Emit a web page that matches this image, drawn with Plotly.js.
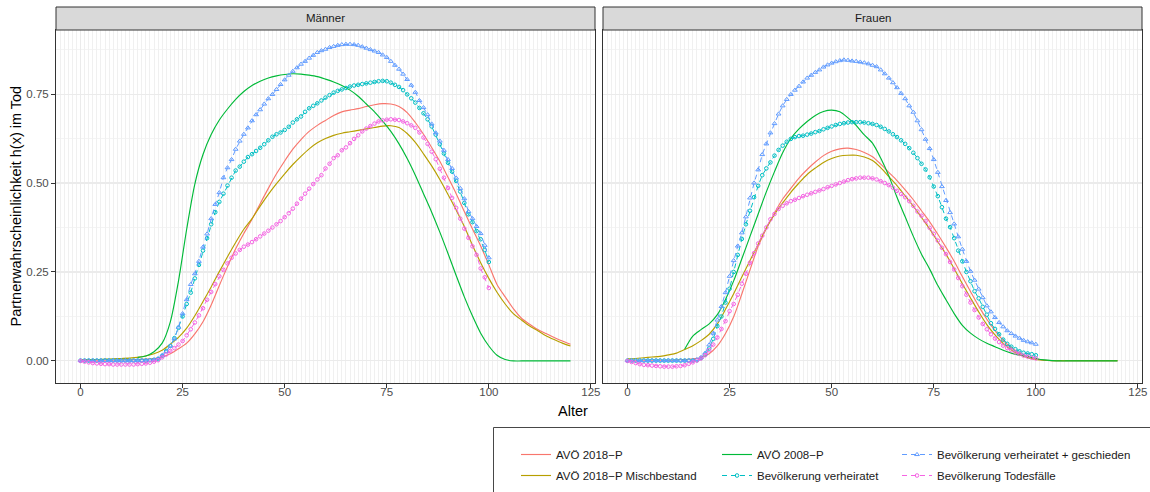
<!DOCTYPE html>
<html><head><meta charset="utf-8">
<script src="https://cdn.plot.ly/plotly-3.0.1.min.js"></script>
<style>html,body{margin:0;padding:0;background:#fff}#chart{width:1150px;height:492px}</style>
</head><body><div id="chart"></div>
<script>
// ---------- DATA ----------
const panels = ['Männer', 'Frauen'];
const seriesNames = ['AVÖ 2018\u2212P', 'AVÖ 2018\u2212P Mischbestand', 'AVÖ 2008\u2212P',
  'Bevölkerung verheiratet', 'Bevölkerung verheiratet + geschieden', 'Bevölkerung Todesfälle'];
// ages for the AVÖ tables (every 2 years, 0..120) and the population data (every year, 0..100)
const agesAVO = []; for (let a = 0; a <= 120; a += 2) agesAVO.push(a);
const agesBEV = []; for (let a = 0; a <= 100; a += 1) agesBEV.push(a);

// Männer
const m_avo2018 = [0.002,0.002,0.002,0.002,0.002,0.003,0.003,0.004,0.005,0.007,0.011,
 0.02,0.034,0.05,0.076,0.11,0.157,0.212,0.265,0.315,0.358,
 0.398,0.442,0.485,0.526,0.562,0.595,0.622,0.645,0.662,0.676,
 0.69,0.7,0.705,0.709,0.715,0.72,0.723,0.722,0.715,0.698,
 0.67,0.637,0.6,0.561,0.516,0.47,0.42,0.371,0.323,0.27,
 0.215,0.18,0.147,0.12,0.103,0.088,0.077,0.066,0.056,0.047];
const m_misch = [0.003,0.004,0.004,0.005,0.006,0.007,0.008,0.01,0.014,0.02,0.03,
 0.047,0.066,0.092,0.127,0.167,0.208,0.251,0.293,0.333,0.37,
 0.40,0.435,0.468,0.498,0.526,0.552,0.575,0.596,0.613,0.625,
 0.634,0.64,0.644,0.648,0.652,0.656,0.66,0.661,0.656,0.639,
 0.614,0.582,0.548,0.51,0.468,0.424,0.378,0.325,0.276,0.232,
 0.193,0.16,0.133,0.115,0.098,0.085,0.071,0.06,0.05,0.042];
const m_avo2008 = [null,null,null,null,null,null,null,0.01,0.014,0.026,0.05,
 0.11,0.225,0.37,0.497,0.58,0.636,0.677,0.708,0.735,0.757,
 0.774,0.786,0.795,0.801,0.805,0.807,0.806,0.803,0.799,0.792,
 0.784,0.774,0.761,0.744,0.722,0.7,0.674,0.645,0.61,0.569,
 0.522,0.47,0.418,0.362,0.302,0.24,0.18,0.126,0.078,0.042,
 0.016,0.004,0,0,0,0,0,0,0,0];
const m_verh = [0.001,0.001,0.001,0.001,0.001,0.001,0.001,0.001,0.001,0.001,
 0.001,0.001,0.001,0.001,0.001,0.001,0.001,0.002,0.003,0.005,
 0.014,0.028,0.042,0.064,0.093,0.125,0.16,0.192,0.232,0.27,
 0.31,0.345,0.384,0.418,0.447,0.47,0.493,0.515,0.535,0.546,
 0.56,0.573,0.581,0.59,0.599,0.609,0.62,0.63,0.637,0.642,
 0.649,0.658,0.67,0.679,0.687,0.7,0.71,0.717,0.724,0.732,
 0.74,0.747,0.754,0.759,0.763,0.767,0.771,0.774,0.776,0.778,
 0.78,0.782,0.784,0.786,0.787,0.786,0.782,0.776,0.77,0.761,
 0.749,0.738,0.726,0.711,0.696,0.679,0.659,0.636,0.609,0.583,
 0.557,0.532,0.506,0.476,0.444,0.412,0.39,0.365,0.342,0.312,
 0.278];
const m_verhgesch = [0.001,0.001,0.001,0.001,0.001,0.001,0.001,0.001,0.001,0.001,
 0.001,0.001,0.001,0.001,0.001,0.001,0.001,0.002,0.003,0.007,
 0.016,0.026,0.042,0.062,0.095,0.133,0.172,0.215,0.245,0.28,
 0.32,0.357,0.40,0.44,0.473,0.515,0.543,0.566,0.595,0.618,
 0.637,0.655,0.675,0.692,0.706,0.722,0.737,0.749,0.763,0.777,
 0.79,0.803,0.814,0.824,0.834,0.842,0.851,0.859,0.867,0.872,
 0.876,0.881,0.884,0.887,0.889,0.89,0.89,0.889,0.887,0.883,
 0.879,0.875,0.871,0.867,0.86,0.853,0.842,0.831,0.82,0.806,
 0.791,0.775,0.755,0.732,0.712,0.692,0.666,0.641,0.618,0.592,
 0.566,0.541,0.514,0.485,0.456,0.42,0.4,0.378,0.358,0.325,
 0.29];
const m_tod = [0,-0.002,-0.004,-0.006,-0.007,-0.008,-0.009,-0.009,-0.01,-0.01,
 -0.01,-0.01,-0.01,-0.01,-0.009,-0.008,-0.007,-0.005,-0.002,0.002,
 0.01,0.018,0.028,0.036,0.046,0.056,0.072,0.089,0.108,0.128,
 0.148,0.172,0.194,0.216,0.238,0.256,0.274,0.29,0.302,0.312,
 0.321,0.327,0.334,0.342,0.35,0.358,0.366,0.375,0.384,0.393,
 0.404,0.415,0.428,0.442,0.456,0.47,0.484,0.497,0.51,0.522,
 0.541,0.554,0.57,0.578,0.592,0.6,0.612,0.624,0.634,0.645,
 0.653,0.66,0.667,0.673,0.676,0.678,0.679,0.678,0.677,0.673,
 0.668,0.662,0.655,0.642,0.628,0.61,0.588,0.567,0.54,0.515,
 0.486,0.458,0.43,0.4,0.372,0.346,0.322,0.298,0.26,0.235,
 0.205];

// Frauen
const f_avo2018 = [0.002,0.002,0.002,0.002,0.002,0.002,0.003,0.004,0.006,0.009,0.02,
 0.042,0.077,0.124,0.188,0.256,0.322,0.372,0.416,0.455,0.485,
 0.514,0.538,0.559,0.577,0.589,0.596,0.598,0.594,0.586,0.574,
 0.553,0.53,0.507,0.481,0.453,0.422,0.391,0.356,0.319,0.28,
 0.237,0.195,0.154,0.117,0.085,0.058,0.037,0.022,0.011,0.005,
 0.002,0.001,0.001,0.001,0.001,0.001,0.001,0.001,0.001,0.001];
const f_misch = [0.006,0.007,0.009,0.011,0.013,0.017,0.022,0.032,0.043,0.057,0.075,
 0.104,0.145,0.189,0.236,0.282,0.328,0.374,0.412,0.444,0.474,
 0.50,0.524,0.542,0.558,0.569,0.576,0.578,0.578,0.573,0.563,
 0.543,0.518,0.493,0.464,0.435,0.403,0.371,0.335,0.3,0.259,
 0.217,0.177,0.138,0.102,0.073,0.049,0.031,0.018,0.009,0.004,
 0.002,0.001,0.001,0.001,0.001,0.001,0.001,0.001,0.001,0.001];
const f_avo2008 = [null,null,null,null,null,null,null,0.033,0.07,0.088,0.104,
 0.13,0.173,0.225,0.287,0.35,0.413,0.475,0.532,0.585,0.625,
 0.652,0.673,0.69,0.701,0.705,0.7,0.683,0.662,0.635,0.612,
 0.57,0.52,0.46,0.405,0.35,0.3,0.258,0.212,0.172,0.133,
 0.1,0.078,0.062,0.05,0.04,0.03,0.022,0.016,0.012,0.007,
 0.003,0.001,0,0,0,0,0,0,0,0];
const f_verh = [0.001,0.001,0.001,0.001,0.001,0.001,0.001,0.001,0.001,0.001,
 0.001,0.001,0.001,0.001,0.001,0.001,0.001,0.002,0.008,0.018,
 0.035,0.062,0.098,0.125,0.164,0.203,0.25,0.298,0.343,0.384,
 0.422,0.46,0.492,0.522,0.541,0.558,0.577,0.593,0.605,0.616,
 0.624,0.629,0.632,0.633,0.636,0.639,0.643,0.646,0.651,0.655,
 0.659,0.663,0.666,0.668,0.67,0.671,0.671,0.671,0.67,0.668,
 0.666,0.663,0.658,0.652,0.645,0.637,0.629,0.62,0.61,0.598,
 0.585,0.57,0.554,0.538,0.516,0.49,0.463,0.432,0.4,0.376,
 0.345,0.31,0.28,0.25,0.224,0.196,0.176,0.152,0.13,0.106,
 0.09,0.075,0.06,0.048,0.04,0.033,0.027,0.023,0.021,0.019,
 0.016];
const f_verhgesch = [0.001,0.001,0.001,0.001,0.001,0.001,0.001,0.001,0.001,0.001,
 0.001,0.001,0.001,0.001,0.001,0.001,0.001,0.004,0.01,0.022,
 0.045,0.078,0.115,0.153,0.192,0.238,0.282,0.323,0.36,0.405,
 0.458,0.5,0.537,0.58,0.61,0.641,0.667,0.694,0.717,0.735,
 0.749,0.761,0.772,0.784,0.795,0.803,0.811,0.818,0.826,0.832,
 0.837,0.841,0.844,0.846,0.845,0.843,0.842,0.84,0.838,0.835,
 0.831,0.827,0.818,0.807,0.795,0.782,0.768,0.752,0.737,0.717,
 0.699,0.675,0.65,0.623,0.597,0.566,0.53,0.49,0.451,0.417,
 0.385,0.349,0.314,0.28,0.252,0.227,0.202,0.178,0.155,0.138,
 0.122,0.108,0.096,0.085,0.077,0.07,0.064,0.058,0.054,0.051,
 0.047];
const f_tod = [0,-0.003,-0.006,-0.009,-0.011,-0.012,-0.013,-0.014,-0.015,-0.016,
 -0.016,-0.016,-0.015,-0.014,-0.012,-0.008,-0.004,0.001,0.007,0.016,
 0.03,0.046,0.066,0.09,0.112,0.14,0.16,0.186,0.217,0.245,
 0.276,0.303,0.33,0.352,0.375,0.398,0.413,0.427,0.436,0.443,
 0.449,0.453,0.458,0.463,0.467,0.471,0.475,0.479,0.483,0.488,
 0.492,0.496,0.5,0.504,0.508,0.511,0.513,0.515,0.515,0.515,
 0.513,0.51,0.505,0.5,0.494,0.487,0.478,0.469,0.46,0.449,
 0.436,0.42,0.408,0.393,0.374,0.357,0.338,0.318,0.3,0.278,
 0.257,0.233,0.21,0.186,0.164,0.143,0.122,0.104,0.089,0.075,
 0.063,0.053,0.043,0.036,0.03,0.024,0.02,0.015,0.012,0.009,
 0.007];

// ---------- STYLE ----------
const FONT = 'Liberation Sans, Arial, Helvetica, sans-serif';
const colors = ['#F8766D', '#B79F00', '#00BA38', '#00BFC4', '#619CFF', '#F564E3'];
const kinds = ['line', 'line', 'line', 'pts', 'pts', 'pts'];
const symbols = [null, null, null, 'circle-open', 'triangle-up-open', 'circle-open'];
const msizes = [0, 0, 0, 3.6, 4.2, 3.6];
const dataByPanel = [
  [m_avo2018, m_misch, m_avo2008, m_verh, m_verhgesch, m_tod],
  [f_avo2018, f_misch, f_avo2008, f_verh, f_verhgesch, f_tod]
];
const drawOrder = [0, 1, 2, 3, 4, 5];
const legendNames = ['legend', 'legend2', 'legend3', 'legend4', 'legend5', 'legend6'];

const traces = [];
panels.forEach((p, pi) => {
  drawOrder.forEach(si => {
    const isLine = kinds[si] === 'line';
    const t = {
      type: 'scatter',
      x: isLine ? agesAVO : agesBEV,
      y: dataByPanel[pi][si],
      name: seriesNames[si],
      xaxis: pi === 0 ? 'x' : 'x2',
      yaxis: pi === 0 ? 'y' : 'y2',
      showlegend: pi === 0,
      legend: legendNames[si],
      hoverinfo: 'skip',
      connectgaps: false
    };
    if (isLine) {
      t.mode = 'lines';
      t.line = {color: colors[si], width: 1.15, shape: 'spline', smoothing: 0.8};
    } else {
      t.mode = 'lines+markers';
      t.line = {color: colors[si], width: 1.0, dash: '5px,4px'};
      t.marker = {symbol: symbols[si], size: msizes[si], color: colors[si], line: {color: colors[si], width: 1}};
    }
    traces.push(t);
  });
});

// ---------- LAYOUT ----------
const W = 1150, H = 492;
const mL = 56, mR = 8, mT = 30, mB = 109;
const plotW = W - mL - mR, plotH = H - mT - mB;
const px2x = px => (px - mL) / plotW;
const py2y = py => (H - mB - py) / plotH;
const gap = 8;
const panelW = (plotW - gap) / 2;
const dom1 = [0, panelW / plotW], dom2 = [(panelW + gap) / plotW, 1];

function xAxis(domain, anchor) {
  return {
    domain: domain, anchor: anchor, range: [-6, 126], tick0: 0, dtick: 25,
    ticks: 'outside', ticklen: 4, tickwidth: 1, tickcolor: '#333333', ticklabelstandoff: -6,
    showline: true, mirror: true, linecolor: '#333333', linewidth: 1,
    showgrid: true, gridcolor: '#EBEBEB', gridwidth: 1.1, zeroline: false,
    minor: {dtick: 1, tick0: 0, showgrid: true, gridcolor: '#EAEAEA', gridwidth: 0.7, ticks: ''},
    tickfont: {family: FONT, size: 11.5, color: '#4D4D4D'}, fixedrange: true, automargin: false
  };
}
function yAxis(anchor, labels) {
  return {
    anchor: anchor, domain: [0, 1], range: [-0.062, 0.93], tick0: 0, dtick: 0.25, tickformat: '.2f',
    ticks: labels ? 'outside' : '', ticklen: 4, tickwidth: 1, tickcolor: '#333333',
    showticklabels: labels,
    showline: true, mirror: true, linecolor: '#333333', linewidth: 1,
    showgrid: true, gridcolor: '#EBEBEB', gridwidth: 1.1, zeroline: false,
    minor: {dtick: 0.125, tick0: 0, showgrid: true, gridcolor: '#F0F0F0', gridwidth: 0.7, ticks: ''},
    tickfont: {family: FONT, size: 11.5, color: '#4D4D4D'}, fixedrange: true, automargin: false
  };
}

const stripTop = 1 + 23 / plotH;
const shapes = [
  {type: 'rect', xref: 'paper', yref: 'paper', x0: dom1[0], x1: dom1[1], y0: 1, y1: stripTop,
   fillcolor: '#D9D9D9', line: {color: '#333333', width: 1}, layer: 'above'},
  {type: 'rect', xref: 'paper', yref: 'paper', x0: dom2[0], x1: dom2[1], y0: 1, y1: stripTop,
   fillcolor: '#D9D9D9', line: {color: '#333333', width: 1}, layer: 'above'},
  // legend frame
  {type: 'rect', xref: 'paper', yref: 'paper', x0: px2x(493.5), x1: px2x(1170), y0: py2y(427.5), y1: py2y(520),
   fillcolor: 'rgba(0,0,0,0)', line: {color: '#333333', width: 0.9}, layer: 'above'}
];

const annotations = [
  {text: panels[0], xref: 'paper', yref: 'paper', x: (dom1[0] + dom1[1]) / 2, y: (1 + stripTop) / 2,
   showarrow: false, xanchor: 'center', yanchor: 'middle', font: {family: FONT, size: 11.5, color: '#1A1A1A'}},
  {text: panels[1], xref: 'paper', yref: 'paper', x: (dom2[0] + dom2[1]) / 2, y: (1 + stripTop) / 2,
   showarrow: false, xanchor: 'center', yanchor: 'middle', font: {family: FONT, size: 11.5, color: '#1A1A1A'}},
  {text: 'Alter', xref: 'paper', yref: 'paper', x: px2x(573), y: py2y(411), showarrow: false,
   xanchor: 'center', yanchor: 'middle', font: {family: FONT, size: 14.5, color: '#000000'}},
  {text: 'Partnerwahrscheinlichkeit h(x) im Tod', xref: 'paper', yref: 'paper', x: px2x(15), y: 0.5,
   textangle: -90, showarrow: false, xanchor: 'center', yanchor: 'middle',
   font: {family: FONT, size: 14.5, color: '#000000'}}
];

// legend entries: 3 columns x 2 rows (column-major as in the original)
const legCols = [516, 717, 897];
const legRows = [440, 461];
const layout = {
  width: W, height: H,
  margin: {l: mL, r: mR, t: mT, b: mB, pad: 0, autoexpand: false},
  paper_bgcolor: '#FFFFFF', plot_bgcolor: '#FFFFFF',
  font: {family: FONT, color: '#1A1A1A'},
  xaxis: xAxis(dom1, 'y'), xaxis2: xAxis(dom2, 'y2'),
  yaxis: yAxis('x', true), yaxis2: Object.assign(yAxis('x2', false), {matches: 'y'}),
  shapes: shapes, annotations: annotations
};
legendNames.forEach((ln, i) => {
  const col = Math.floor(i / 2), row = i % 2;
  layout[ln] = {
    xref: 'container', yref: 'container',
    x: legCols[col] / W, y: 1 - legRows[row] / H, xanchor: 'left', yanchor: 'top',
    orientation: 'v', bgcolor: 'rgba(0,0,0,0)', borderwidth: 0,
    font: {family: FONT, size: 11.5, color: '#1A1A1A'}, itemwidth: 30, itemclick: false, itemdoubleclick: false
  };
});

Plotly.newPlot('chart', traces, layout, {displayModeBar: false, staticPlot: true});
</script></body></html>
